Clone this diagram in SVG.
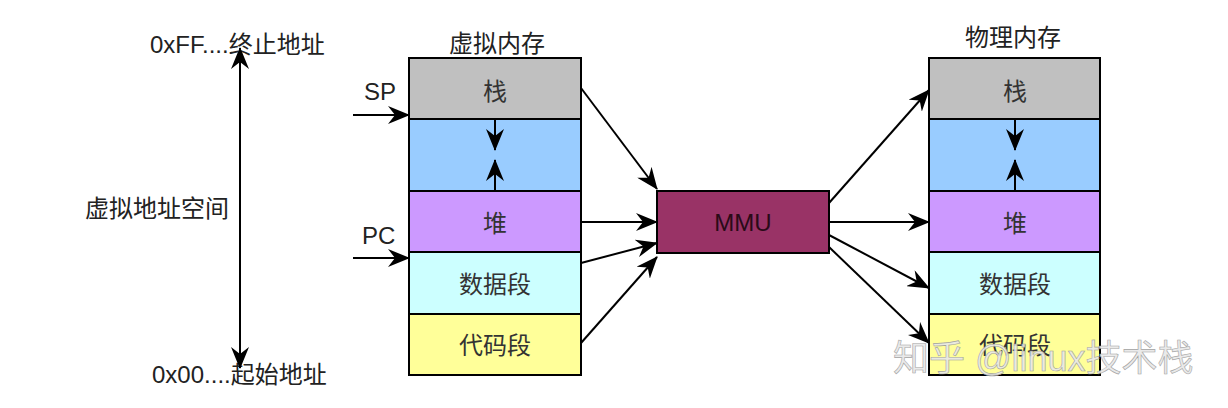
<svg xmlns="http://www.w3.org/2000/svg" width="1228" height="408" viewBox="0 0 1228 408">
<style>
text{font-family:"Liberation Sans","Noto Sans CJK SC",sans-serif;fill:#222;}
.lbl{font-size:24px;}
.seg{font-size:24px;text-anchor:middle;fill:#333;}
.ttl{font-size:24px;text-anchor:middle;}
.box{stroke:#000;stroke-width:2;}
.con{stroke:#000;stroke-width:2;fill:none;marker-end:url(#ah);}
</style>
<defs>
<marker id="ah" markerWidth="22" markerHeight="18" refX="21" refY="9" orient="auto-start-reverse" markerUnits="userSpaceOnUse" viewBox="0 0 22 18">
<path d="M0,0 L22,9 L0,18 L7,9 Z" fill="#000"/>
</marker>
</defs>
<rect width="1228" height="408" fill="#fff"/>

<g id="axis">
<text class="lbl" x="150" y="53">0xFF....终止地址</text>
<text class="lbl" x="85" y="217">虚拟地址空间</text>
<text class="lbl" x="152" y="383">0x00....起始地址</text>
</g>

<g id="virtual">
<text class="ttl" x="497" y="52">虚拟内存</text>
<rect class="box" x="409" y="58" width="172" height="61" fill="#c0c0c0"/>
<rect class="box" x="409" y="119" width="172" height="72" fill="#99ccff"/>
<rect class="box" x="409" y="191" width="172" height="61" fill="#cc99ff"/>
<rect class="box" x="409" y="252" width="172" height="62" fill="#ccffff"/>
<rect class="box" x="409" y="314" width="172" height="61" fill="#ffff99"/>
<text class="seg" x="495" y="100">栈</text>
<text class="seg" x="495" y="232">堆</text>
<text class="seg" x="495" y="293">数据段</text>
<text class="seg" x="495" y="354">代码段</text>
</g>

<g id="mmu">
<rect class="box" x="657" y="191" width="172" height="62" fill="#993366"/>
<text x="743" y="231" font-size="24" text-anchor="middle" style="fill:#2a0a18">MMU</text>
</g>

<g id="physical">
<text class="ttl" x="1013" y="46">物理内存</text>
<rect class="box" x="929" y="58" width="171" height="61" fill="#c0c0c0"/>
<rect class="box" x="929" y="119" width="171" height="72" fill="#99ccff"/>
<rect class="box" x="929" y="191" width="171" height="61" fill="#cc99ff"/>
<rect class="box" x="929" y="252" width="171" height="62" fill="#ccffff"/>
<rect class="box" x="929" y="314" width="171" height="61" fill="#ffff99"/>
<text class="seg" x="1015" y="100">栈</text>
<text class="seg" x="1015" y="232">堆</text>
<text class="seg" x="1015" y="293">数据段</text>
<text class="seg" x="1015" y="354">代码段</text>
</g>

<g id="pointers">
<text class="lbl" x="364" y="100">SP</text>
<text class="lbl" x="362" y="244">PC</text>
</g>

<g id="connectors">
<line class="con" x1="240" y1="200" x2="240" y2="48"/>
<line class="con" x1="240" y1="200" x2="240" y2="368"/>
<line class="con" x1="353" y1="115" x2="409" y2="115"/>
<line class="con" x1="353" y1="258" x2="409" y2="258"/>
<line class="con" x1="495" y1="119" x2="495" y2="150"/>
<line class="con" x1="495" y1="191" x2="495" y2="160"/>
<line class="con" x1="1015" y1="119" x2="1015" y2="150"/>
<line class="con" x1="1015" y1="191" x2="1015" y2="160"/>
<line class="con" x1="581" y1="88" x2="657" y2="189"/>
<line class="con" x1="581" y1="222" x2="657" y2="222"/>
<line class="con" x1="581" y1="263" x2="657" y2="243"/>
<line class="con" x1="581" y1="343" x2="657" y2="257"/>
<line class="con" x1="829" y1="203" x2="929" y2="90"/>
<line class="con" x1="829" y1="222" x2="929" y2="222"/>
<line class="con" x1="829" y1="235" x2="929" y2="288"/>
<line class="con" x1="829" y1="247" x2="929" y2="343"/>
</g>

<g id="watermark">
<text x="893" y="371" font-size="36" style="fill:#e8e8e8;stroke:#9a9a9a;stroke-width:0.6;opacity:0.9">知乎 @linux技术栈</text>
</g>
</svg>
